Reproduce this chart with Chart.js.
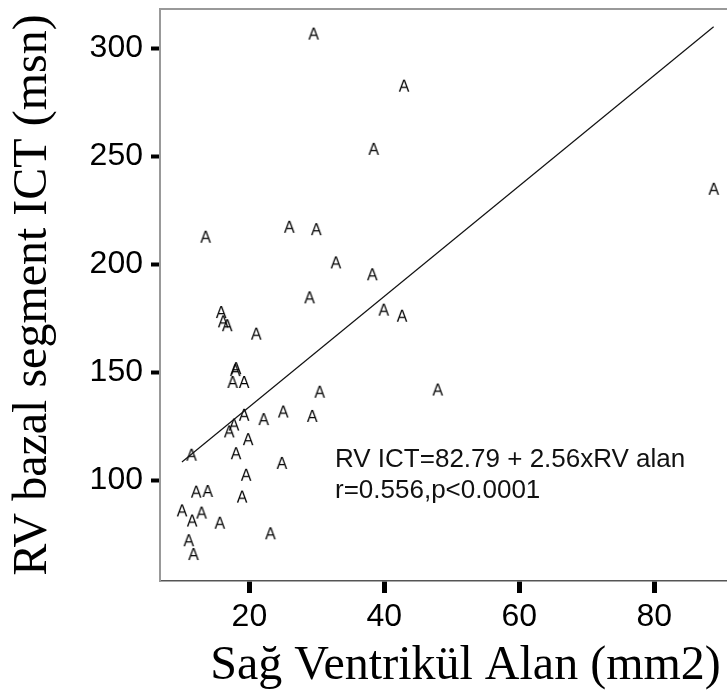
<!DOCTYPE html>
<html><head><meta charset="utf-8">
<script src="https://cdn.jsdelivr.net/npm/chart.js@4"></script>
<style>html,body{margin:0;padding:0;overflow:hidden;background:#fff;width:727px;height:693px}canvas{display:block}</style>
</head><body>
<canvas id="c" width="780" height="693"></canvas>
<script>
// Data
const areaX = [29.5, 42.9, 38.4, 13.5, 25.9, 29.9, 32.8, 38.2, 28.9, 88.8, 39.9, 42.6, 15.8, 16.1, 16.7, 21.0, 17.9, 18.0, 17.5, 19.2, 30.4, 47.9, 19.2, 22.1, 25.0, 29.3, 17.7, 17.0, 19.8, 11.4, 18.0, 24.8, 19.5, 12.1, 13.8, 18.9, 10.0, 11.5, 12.9, 15.6, 23.1, 11.0, 11.7];
const ictY  = [306.9, 282.8, 253.5, 212.8, 217.4, 216.3, 200.9, 195.4, 184.7, 235.0, 179.0, 176.2, 177.9, 173.6, 171.8, 167.9, 151.0, 151.9, 145.5, 145.5, 141.0, 142.0, 130.3, 128.3, 131.8, 129.8, 125.8, 122.6, 119.0, 111.8, 112.5, 108.0, 102.5, 94.7, 95.0, 92.4, 86.0, 81.3, 85.0, 80.3, 75.4, 72.2, 65.8];
const fitX = [10.0, 88.8];
const fitY = [108.4, 310.1];
const xTicks = [20, 40, 60, 80];
const yTicks = [100, 150, 200, 250, 300];
const xRange = [6.75, 97.3];
const yRange = [53.3, 318.3];
const xTitle = 'Sağ Ventrikül Alan (mm2)';
const yTitle = 'RV bazal segment ICT (msn)';
const noteLines = ['RV ICT=82.79 + 2.56xRV alan', 'r=0.556,p<0.0001'];

const SANS = '"Liberation Sans", Arial, sans-serif';
const SERIF = '"Liberation Serif", "Times New Roman", serif';

// "A" marker
const mk = document.createElement('canvas');
mk.width = 18; mk.height = 18;
const g = mk.getContext('2d');
g.fillStyle = '#000';
g.font = '16px ' + SANS;
g.textAlign = 'center';
g.textBaseline = 'alphabetic';
g.fillText('A', 9, 9 + 5.7);

const points = areaX.map((x, i) => ({x: x, y: ictY[i]}));
const fitPts = fitX.map((x, i) => ({x: x, y: fitY[i]}));

const notePlugin = {
  id: 'note',
  afterDraw(chart) {
    const ctx = chart.ctx;
    ctx.save();
    ctx.font = '26px ' + SANS;
    ctx.fillStyle = '#111';
    ctx.textBaseline = 'alphabetic';
    ctx.textAlign = 'left';
    ctx.fillText(noteLines[0], 335, 467);
    ctx.fillText(noteLines[1], 335, 498);
    ctx.restore();
  }
};

function noPad(s) { s.paddingTop = 0; s.paddingBottom = 0; s.paddingLeft = 0; s.paddingRight = 0; }

new Chart(document.getElementById('c'), {
  type: 'scatter',
  data: {
    datasets: [
      {data: fitPts, showLine: true, pointRadius: 0, borderColor: '#111', borderWidth: 1.2, fill: false},
      {data: points, pointStyle: mk, pointRadius: 9, borderWidth: 0}
    ]
  },
  options: {
    responsive: false,
    animation: false,
    layout: {padding: 0},
    plugins: {legend: {display: false}, tooltip: {enabled: false}},
    scales: {
      x: {
        type: 'linear', position: 'bottom', min: xRange[0], max: xRange[1],
        afterBuildTicks: s => { s.ticks = xTicks.map(v => ({value: v})); },
        afterFit: s => { s.height = 112; noPad(s); },
        ticks: {color: '#000', font: {family: SANS, size: 32}, padding: 5, maxRotation: 0},
        grid: {display: true, drawOnChartArea: false, drawTicks: true, tickLength: 12, tickWidth: 5, tickColor: '#000'},
        border: {display: true, color: '#555', width: 1.5},
        title: {display: true, text: xTitle, color: '#000', font: {family: SERIF, size: 48, lineHeight: 1.1}, padding: 0}
      },
      x2: {
        type: 'linear', position: 'top', min: xRange[0], max: xRange[1],
        afterFit: s => { s.height = 6; noPad(s); },
        ticks: {display: false},
        grid: {display: false, drawTicks: false},
        border: {display: true, color: '#999', width: 2}
      },
      y: {
        type: 'linear', position: 'left', min: yRange[0], max: yRange[1],
        afterBuildTicks: s => { s.ticks = yTicks.map(v => ({value: v})); },
        afterFit: s => { s.width = 160; noPad(s); },
        ticks: {color: '#000', font: {family: SANS, size: 32}, padding: 8},
        grid: {display: true, drawOnChartArea: false, drawTicks: true, tickLength: 9, tickWidth: 4, tickColor: '#000'},
        border: {display: true, color: '#999', width: 2},
        title: {display: true, text: yTitle, color: '#000', font: {family: SERIF, size: 48, lineHeight: 1.2}, padding: {top: 5, bottom: 0}}
      }
    }
  },
  plugins: [notePlugin]
});
</script>
</body></html>
